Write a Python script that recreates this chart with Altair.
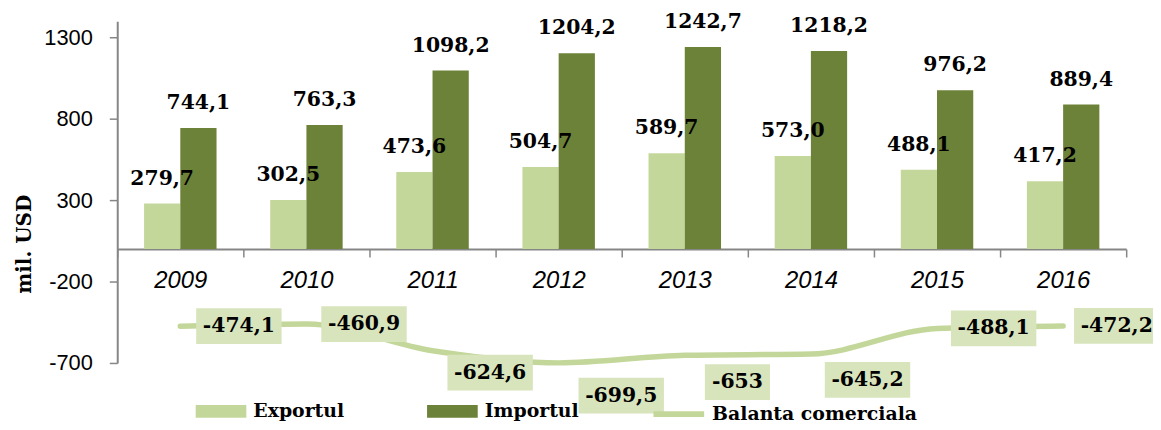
import altair as alt
import pandas as pd

years = ["2009", "2010", "2011", "2012", "2013", "2014", "2015", "2016"]
export_vals = [279.7, 302.5, 473.6, 504.7, 589.7, 573.0, 488.1, 417.2]
import_vals = [744.1, 763.3, 1098.2, 1204.2, 1242.7, 1218.2, 976.2, 889.4]
balance_vals = [-474.1, -460.9, -624.6, -699.5, -653, -645.2, -488.1, -472.2]
series_names = ["Exportul", "Importul", "Balanta comerciala"]
y_ticks = [-700, -200, 300, 800, 1300]

# label placement offsets (pixels) for the balance labels
label_dx = [59, 58, 58, 63, 53, 57, 57, 54]
label_dy = [0, 0, 22, 33, 27, 26, 0, 0]

def fmt(v):
    return str(v).replace(".", ",")

bars_df = pd.DataFrame({
    "year": years * 2,
    "series": [series_names[0]] * len(years) + [series_names[1]] * len(years),
    "value": export_vals + import_vals,
})
bars_df["label"] = [fmt(v) for v in export_vals + import_vals]

bal_df = pd.DataFrame({
    "year": years,
    "series": series_names[2],
    "value": balance_vals,
    "label": [fmt(v) for v in balance_vals],
})

LIGHT = "#c4d79b"
DARK = "#6d8239"
BOX = "#d8e4bc"
AXIS = "#868686"
SERIF = "DejaVu Serif"
SANS = "Liberation Sans"
LBL = 20.5

x = alt.X(
    "year:N",
    sort=years,
    scale=alt.Scale(paddingInner=0, paddingOuter=0),
    axis=alt.Axis(
        title=None, offset=-114.7, domainColor=AXIS, domainWidth=2,
        tickBand="extent", tickSize=8, tickColor=AXIS, tickWidth=1.5,
        labelFont=SANS, labelFontStyle="italic", labelFontSize=24,
        labelColor="black", labelPadding=12, labelAngle=0,
    ),
)
y = alt.Y(
    "value:Q",
    scale=alt.Scale(domain=[-700, 1400], nice=False, zero=False),
    axis=alt.Axis(
        values=y_ticks, grid=False, domainColor=AXIS, domainWidth=2,
        labelExpr="'' + datum.value",
        tickSize=8, tickColor=AXIS, tickWidth=1.5,
        labelFont=SANS, labelFontSize=22, labelColor="black", labelPadding=17,
        title="mil. USD", titleFont=SERIF, titleFontWeight="bold", titleFontSize=20,
        titleColor="black", titleX=-93, titleY=224, titleAngle=270,
        titleAlign="center", titleBaseline="middle",
    ),
)
xoff = alt.XOffset("series:N", sort=series_names[:2],
                   scale=alt.Scale(paddingInner=0, paddingOuter=0.74))

bars = alt.Chart(bars_df).mark_bar().encode(
    x=x, y=y, xOffset=xoff,
    color=alt.Color(
        "series:N",
        scale=alt.Scale(domain=series_names[:2], range=[LIGHT, DARK]),
        legend=alt.Legend(
            title=None, orient="none", legendX=79, legendY=367, direction="horizontal",
            symbolType="M-1,-0.25H1V0.25H-1Z", symbolSize=2601, symbolStrokeWidth=0,
            labelFont=SERIF, labelFontWeight="bold", labelFontSize=19, labelColor="black",
            labelOffset=7, columnPadding=83, padding=0, labelLimit=400,
        ),
    ),
)

bar_text = alt.Chart(bars_df).mark_text(
    dy=-25, baseline="middle", align="center", font=SERIF, fontWeight="bold",
    fontSize=LBL, color="black",
).encode(x=x, y=y, xOffset=xoff, text="label:N")

line = alt.Chart(bal_df).mark_line(
    strokeWidth=5.5, interpolate="monotone", strokeCap="round",
).encode(
    x=x, y=y,
    stroke=alt.Stroke(
        "series:N",
        scale=alt.Scale(domain=[series_names[2]], range=[LIGHT]),
        legend=alt.Legend(
            title=None, orient="none", legendX=537, legendY=367,
            symbolType="stroke", symbolSize=2601, symbolStrokeWidth=6,
            labelFont=SERIF, labelFontWeight="bold", labelFontSize=19,
            labelColor="black", labelOffset=5, padding=0, labelLimit=400,
        ),
    ),
)

char_w = {"-": 0.415, ",": 0.38}
layers = [bars, bar_text, line]
for i, yr in enumerate(years):
    lab = fmt(balance_vals[i])
    w = sum(char_w.get(c, 0.696) for c in lab) * 19 + 18
    dx, dy = label_dx[i], label_dy[i]
    path = f"M{dx - w / 2},{dy - 18}H{dx + w / 2}V{dy + 18}H{dx - w / 2}Z"
    base = alt.Chart(bal_df).transform_filter(alt.datum.year == yr)
    box = base.mark_point(
        shape=path, size=4, filled=True, fill=BOX, opacity=1, strokeWidth=0,
    ).encode(x=x, y=y)
    txt = base.mark_text(
        dx=dx, dy=dy, baseline="middle", align="center", font=SERIF,
        fontWeight="bold", fontSize=LBL, color="black",
    ).encode(x=x, y=y, text="label:N")
    layers += [box, txt]

chart = alt.layer(*layers).resolve_scale(color="independent").properties(
    width=1016, height=344,
    autosize=alt.AutoSizeParams(type="none"),
    padding={"left": 110, "top": 12, "right": 27, "bottom": 58},
    background="white",
).configure_view(stroke=None)

chart.save("out.html", embed_options={"renderer": "svg", "actions": False})
